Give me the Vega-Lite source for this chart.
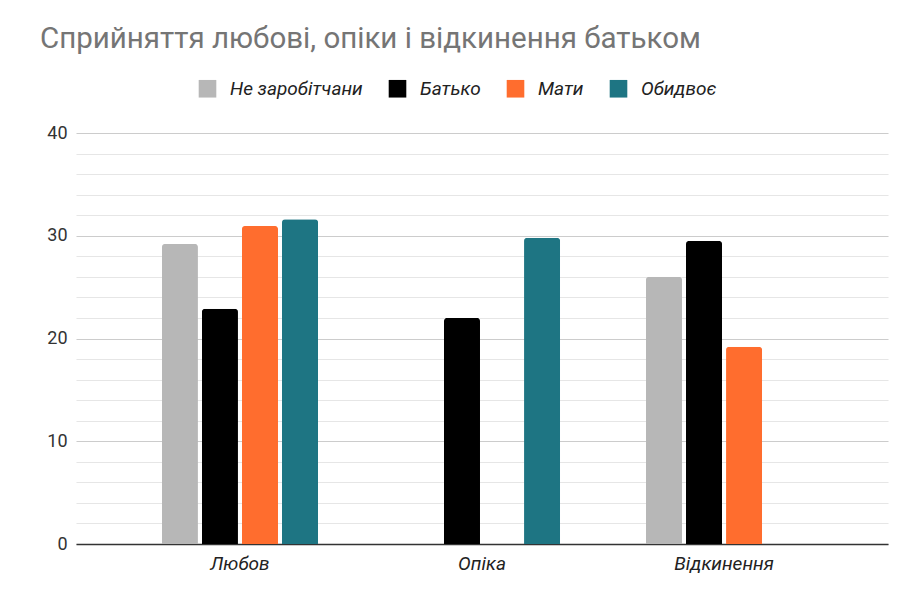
{
  "$schema": "https://vega.github.io/schema/vega-lite/v6.json",
  "autosize": "none",
  "width": 812,
  "height": 411,
  "padding": {"left": 76, "top": 133, "right": 25, "bottom": 46},
  "background": "white",
  "title": {
    "text": "Сприйняття любові, опіки і відкинення батьком",
    "anchor": "start",
    "frame": "group",
    "orient": "top",
    "dx": -36,
    "offset": 25,
    "font": "Roboto",
    "fontSize": 29.5,
    "fontWeight": "normal",
    "color": "#757575"
  },
  "data": {
    "values": [
      {"category": "Любов", "group": "Не заробітчани", "value": 29.2},
      {"category": "Любов", "group": "Батько", "value": 22.9},
      {"category": "Любов", "group": "Мати", "value": 30.95},
      {"category": "Любов", "group": "Обидвоє", "value": 31.6},
      {"category": "Опіка", "group": "Батько", "value": 22.0},
      {"category": "Опіка", "group": "Обидвоє", "value": 29.8},
      {"category": "Відкинення", "group": "Не заробітчани", "value": 26.0},
      {"category": "Відкинення", "group": "Батько", "value": 29.5},
      {"category": "Відкинення", "group": "Мати", "value": 19.2}
    ]
  },
  "mark": {"type": "bar", "cornerRadiusTopLeft": 3, "cornerRadiusTopRight": 3},
  "encoding": {
    "x": {
      "field": "category",
      "type": "nominal",
      "sort": ["Любов", "Опіка", "Відкинення"],
      "scale": {"paddingInner": 0.355, "paddingOuter": 0.355},
      "axis": {
        "title": null,
        "labelAngle": 0,
        "labelFont": "Roboto",
        "labelFontSize": 19,
        "labelFontStyle": "italic",
        "labelColor": "#222222",
        "labelPadding": 10,
        "ticks": false,
        "domainColor": "#333333",
        "domainWidth": 1.5,
        "grid": false
      }
    },
    "xOffset": {
      "field": "group",
      "type": "nominal",
      "sort": ["Не заробітчани", "Батько", "Мати", "Обидвоє"],
      "scale": {"paddingInner": 0.1}
    },
    "y": {
      "field": "value",
      "type": "quantitative",
      "scale": {"domain": [0, 40], "nice": false},
      "axis": {
        "title": null,
        "values": [0, 2, 4, 6, 8, 10, 12, 14, 16, 18, 20, 22, 24, 26, 28, 30, 32, 34, 36, 38, 40],
        "labelExpr": "datum.value % 10 === 0 ? datum.label : ''",
        "labelFont": "Roboto",
        "labelFontSize": 18,
        "labelColor": "#333333",
        "labelPadding": 9,
        "ticks": false,
        "domain": false,
        "grid": true,
        "gridColor": {"condition": {"test": "datum.value % 10 === 0", "value": "#cccccc"}, "value": "#e6e6e6"},
        "gridWidth": 1.2
      }
    },
    "color": {
      "field": "group",
      "type": "nominal",
      "sort": ["Не заробітчани", "Батько", "Мати", "Обидвоє"],
      "scale": {
        "domain": ["Не заробітчани", "Батько", "Мати", "Обидвоє"],
        "range": ["#b7b7b7", "#000000", "#ff6d2e", "#1e7583"]
      },
      "legend": {
        "title": null,
        "orient": "none",
        "direction": "horizontal",
        "legendX": 122,
        "legendY": -54,
        "symbolType": "square",
        "symbolSize": 310,
        "symbolStrokeWidth": 0,
        "labelFont": "Roboto",
        "labelFontSize": 19,
        "labelFontStyle": "italic",
        "labelColor": "#222222",
        "labelOffset": 13,
        "columnPadding": 25
      }
    }
  },
  "config": {"view": {"stroke": null}}
}
